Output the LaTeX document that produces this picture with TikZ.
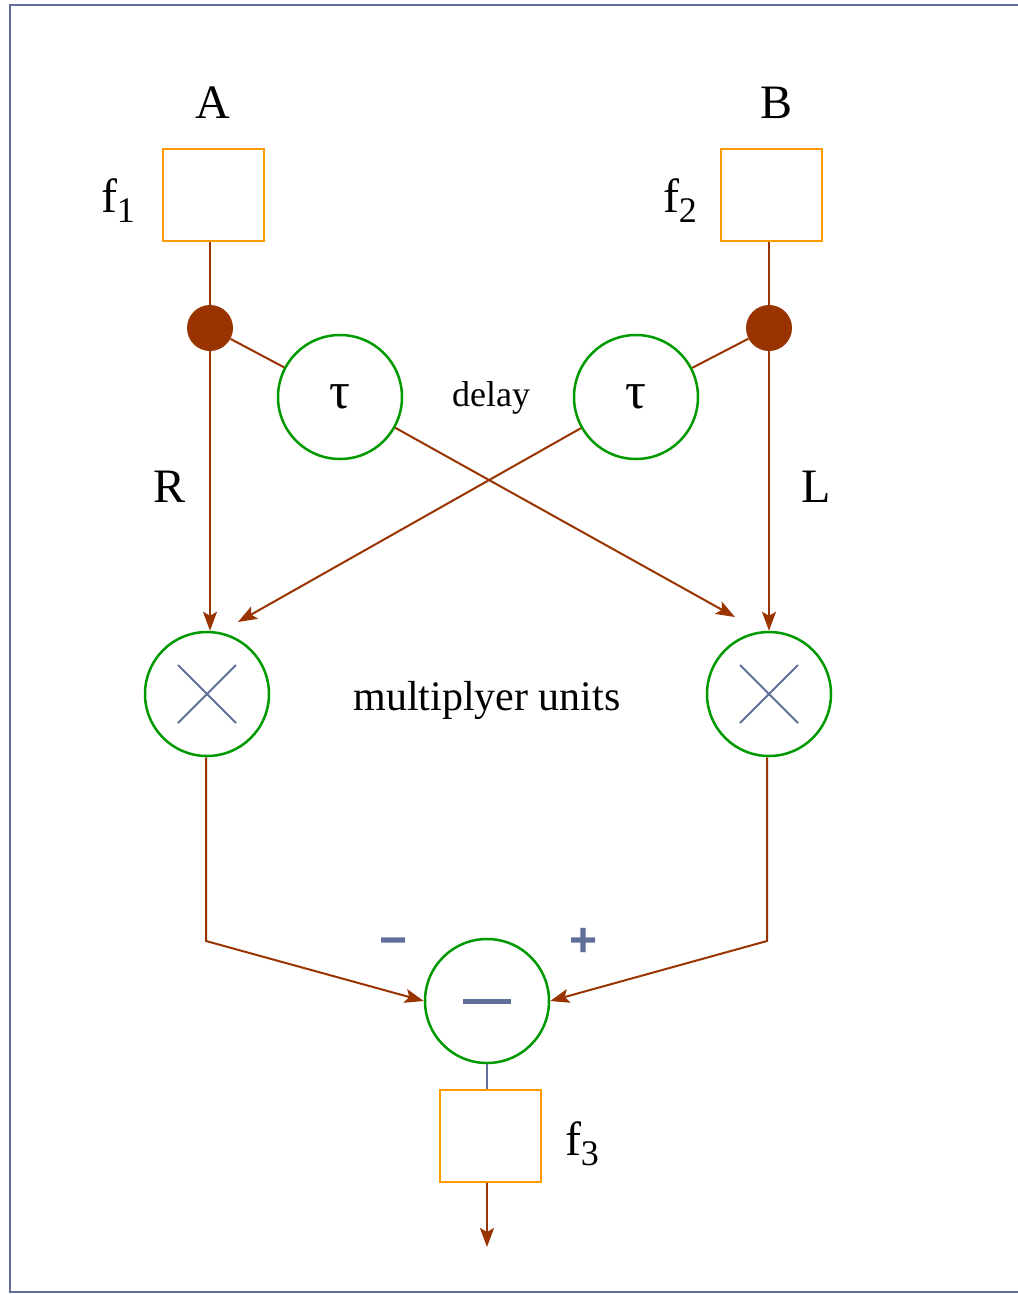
\documentclass[tikz,border=0pt]{standalone}
\usepackage{fontspec}
\setmainfont{Liberation Serif}
\newfontfamily\signfont{Liberation Sans}
\usetikzlibrary{arrows.meta}
\definecolor{bor}{HTML}{FF9900}
\definecolor{grn}{HTML}{009900}
\definecolor{brn}{HTML}{993300}
\definecolor{slt}{HTML}{5F6F9A}
\tikzset{
  fbox/.style={draw=bor, line width=2pt, minimum width=101pt, minimum height=92pt, inner sep=0pt},
  circ/.style={circle, draw=grn, line width=2.5pt, minimum size=124pt, inner sep=0pt},
  dotn/.style={circle, fill=brn, minimum size=46pt, inner sep=0pt},
  conn/.style={draw=brn, line width=2pt},
  arr/.style={conn, -{Stealth[length=19pt,width=14pt,inset=4pt]}},
  big/.style={font=\fontsize{48}{48}\selectfont},
  sign/.style={text=slt, font=\signfont\bfseries\fontsize{48}{48}\selectfont},
}
\newcommand{\fsub}[1]{f\raisebox{-10pt}{\fontsize{36}{36}\selectfont #1}}
\begin{document}
\begin{tikzpicture}[x=1pt,y=-1pt]
\useasboundingbox (0,0) rectangle (1018,1294);
\draw[slt, line width=2pt] (10,5) rectangle (1040,1292);

% input boxes
\node[fbox] (f1) at (213.5,195) {};
\node[fbox] (f2) at (771,195) {};
\node[big] (A) at (213,103) {A};
\node[big] (B) at (777,103) {B};
\node[big] (lf1) at (118,201) {\fsub{1}};
\node[big] (lf2) at (680,201) {\fsub{2}};

% junction dots
\node[dotn] (dL) at (210,328) {};
\node[dotn] (dR) at (769,328) {};

% delays
\node[circ, font=\fontsize{52}{52}\selectfont] (tL) at (340,397) {τ};
\node[circ, font=\fontsize{52}{52}\selectfont] (tR) at (636,397) {τ};
\node[font=\fontsize{36}{36}\selectfont] (delay) at (491,398) {delay};

\node[big] (R) at (170,487) {R};
\node[big] (L) at (816,487) {L};

% multipliers
\node[circ] (mL) at (207,694) {};
\node[circ] (mR) at (769,694) {};
\draw[slt, line width=2pt] ([shift={(-29,-29)}]mL.center) -- ([shift={(29,29)}]mL.center)
  ([shift={(-29,29)}]mL.center) -- ([shift={(29,-29)}]mL.center);
\draw[slt, line width=2pt] ([shift={(-29,-29)}]mR.center) -- ([shift={(29,29)}]mR.center)
  ([shift={(-29,29)}]mR.center) -- ([shift={(29,-29)}]mR.center);
\node[font=\fontsize{42}{42}\selectfont] (mu) at (487,700) {multiplyer units};

% subtractor
\node[circ] (sub) at (487,1001) {};
\draw[slt, line width=5pt] ([xshift=-24]sub.center) -- ([xshift=24]sub.center);
\node[sign] (minus) at (394,947) {−};
\node[sign] (plus) at (584,942) {+};

% output box
\node[fbox] (f3) at (490.5,1136) {};
\node[big] (lf3) at (582,1144) {\fsub{3}};

% coordinates
\coordinate (eR) at (735,617);
\coordinate (eL) at (238,622);
\coordinate (kL) at (206,941);
\coordinate (kR) at (767,941);
\coordinate (out) at (487,1247);

% connectors
\draw[conn] (dL |- f1.south) -- (dL);
\draw[conn] (dR |- f2.south) -- (dR);
\draw[conn] (dL) -- (tL);
\draw[conn] (dR) -- (tR);
\draw[arr] (dL) -- (dL |- mL.north);
\draw[arr] (dR) -- (dR |- mR.north);
\draw[arr] (tL) -- (eR);
\draw[arr] (tR) -- (eL);
\draw[arr] (mL.south -| kL) -- (kL) -- (sub.west);
\draw[arr] (mR.south -| kR) -- (kR) -- (sub.east);
\draw[slt, line width=2pt] (sub.south) -- (sub.south |- f3.north);
\draw[arr] (sub.south |- f3.south) -- (out);
\end{tikzpicture}
\end{document}
